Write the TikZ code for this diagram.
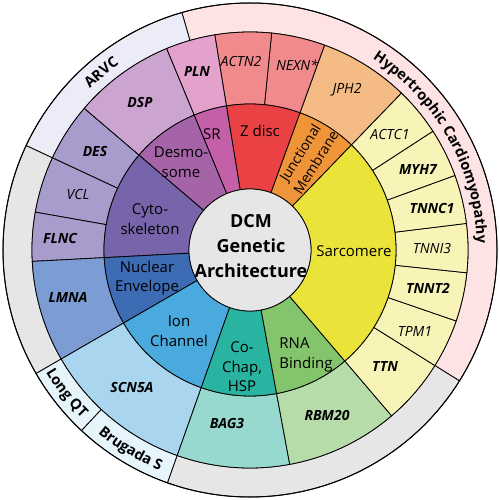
\documentclass[tikz,border=0pt]{standalone}
\usepackage{fontspec}
\setmainfont{Open Sans}
\usetikzlibrary{decorations.text}
\definecolor{cgrey}{HTML}{E6E6E6}
\definecolor{arvc}{HTML}{ECECF8}
\definecolor{hcm}{HTML}{FDE3E3}
\definecolor{lqt}{HTML}{E6F4FB}
\definecolor{sarc}{HTML}{E9E33A}
\definecolor{sarcg}{HTML}{F8F4B8}
\definecolor{junc}{HTML}{F0943A}
\definecolor{juncg}{HTML}{F4BC84}
\definecolor{zdisc}{HTML}{EA4244}
\definecolor{zdiscg}{HTML}{F08A8C}
\definecolor{srr}{HTML}{C460A8}
\definecolor{srg}{HTML}{E2A2CC}
\definecolor{desm}{HTML}{A564A8}
\definecolor{desmg}{HTML}{CCA4D0}
\definecolor{cyto}{HTML}{7864AA}
\definecolor{cytog}{HTML}{A89CCC}
\definecolor{nucl}{HTML}{3D6CB4}
\definecolor{nuclg}{HTML}{7B9DD4}
\definecolor{ion}{HTML}{4AA9DD}
\definecolor{iong}{HTML}{A9D5EF}
\definecolor{chap}{HTML}{28B4A0}
\definecolor{chapg}{HTML}{97D9CE}
\definecolor{rna}{HTML}{83C46C}
\definecolor{rnag}{HTML}{B6DCAA}
\newcommand\ringsec[5]{%
  \filldraw[fill=#5, sepline] (#3:#1pt) arc[start angle=#3, end angle=#4, radius=#1pt]
    -- (#4:#2pt) arc[start angle=#4, end angle=#3, radius=#2pt] -- cycle;}
\newcommand\dfont{\bfseries\fontsize{14.5}{16}\selectfont}
\tikzset{
  sepline/.style={draw=black, line width=0.8pt, line join=round},
  catlabel/.style={font=\fontsize{15}{19.5}\selectfont, align=center, inner sep=0pt},
  genebold/.style={font=\bfseries\itshape\fontsize{14}{16}\selectfont, inner sep=0pt},
  geneit/.style={font=\itshape\fontsize{14}{16}\selectfont, inner sep=0pt},
  ctrlabel/.style={font=\bfseries\fontsize{18}{25}\selectfont, align=center, inner sep=0pt},
}
\begin{document}
\begin{tikzpicture}
\fill[white] (-250pt,-250pt) rectangle (250pt,250pt);
\useasboundingbox (-250pt,-250pt) rectangle (250pt,250pt);
% disease ring
\ringsec{218}{247}{-32}{106}{hcm}
\ringsec{218}{247}{106}{155}{arvc}
\ringsec{218}{247}{155}{210}{cgrey}
\ringsec{218}{247}{210}{227}{lqt}
\ringsec{218}{247}{227}{250.5}{lqt}
\ringsec{218}{247}{250.5}{328}{cgrey}
% gene ring
\ringsec{146}{218}{46}{70}{juncg}
\ringsec{146}{218}{70}{84.3}{zdiscg}
\ringsec{146}{218}{84.3}{99.3}{zdiscg}
\ringsec{146}{218}{99.3}{112.5}{srg}
\ringsec{146}{218}{112.5}{139.5}{desmg}
\ringsec{146}{218}{139.5}{155}{cytog}
\ringsec{146}{218}{155}{170}{cytog}
\ringsec{146}{218}{170}{183}{cytog}
\ringsec{146}{218}{183}{210}{nuclg}
\ringsec{146}{218}{210}{250.5}{iong}
\ringsec{146}{218}{250.5}{280.5}{chapg}
\ringsec{146}{218}{280.5}{310.5}{rnag}
\ringsec{146}{218}{310.5}{328}{sarcg}
\ringsec{146}{218}{328}{341}{sarcg}
\ringsec{146}{218}{341}{354}{sarcg}
\ringsec{146}{218}{354}{367}{sarcg}
\ringsec{146}{218}{7}{20}{sarcg}
\ringsec{146}{218}{20}{33}{sarcg}
\ringsec{146}{218}{33}{46}{sarcg}
% category ring
\ringsec{61}{146}{46}{70}{junc}
\ringsec{61}{146}{70}{99.3}{zdisc}
\ringsec{61}{146}{99.3}{112.5}{srr}
\ringsec{61}{146}{112.5}{139.5}{desm}
\ringsec{61}{146}{139.5}{183}{cyto}
\ringsec{61}{146}{183}{210}{nucl}
\ringsec{61}{146}{210}{250.5}{ion}
\ringsec{61}{146}{250.5}{280.5}{chap}
\ringsec{61}{146}{280.5}{310.5}{rna}
\ringsec{61}{146}{-49.5}{46}{sarc}
% centre
\filldraw[fill=cgrey, sepline] (0,0) circle[radius=61pt];
\draw[line width=1pt] (0,0) circle[radius=247pt];
\node[ctrlabel] (ctr) at (1pt,4pt) {DCM\\Genetic\\Architecture};
% category labels
\node[catlabel] (sarcl) at (104pt,-1pt) {Sarcomere};
\node[catlabel, align=left] (rnal) at (56pt,-105pt) {RNA\\Binding};
\node[catlabel] (chapl) at (-8pt,-117pt) {Co-\\Chap,\\HSP};
\node[catlabel] (ionl) at (-71pt,-81pt) {Ion\\Channel};
\node[catlabel] (nucll) at (-103pt,-28pt) {Nuclear\\Envelope};
\node[catlabel] (cytol) at (-100pt,31pt) {Cyto-\\skeleton};
\node[catlabel] (desml) at (-69pt,88pt) {Desmo-\\some};
\node[catlabel] (srl) at (-38pt,116pt) {SR};
\node[catlabel] (zdl) at (10pt,119pt) {Z disc};
\node[catlabel, font=\fontsize{14}{18.5}\selectfont, rotate=58] (juncl) at (58:109pt) {Junctional\\Membrane};
% gene labels
\node[genebold] (pln) at (-53pt,178pt) {PLN};
\node[genebold] (dsp) at (-110pt,147pt) {DSP};
\node[genebold] (des) at (-155pt,98pt) {DES};
\node[geneit] (vcl) at (-172pt,55pt) {VCL};
\node[genebold] (flnc) at (-190pt,12pt) {FLNC};
\node[genebold] (lmna) at (-182pt,-47pt) {LMNA};
\node[genebold] (scn) at (-118pt,-137pt) {SCN5A};
\node[genebold] (bag) at (-23pt,-173pt) {BAG3};
\node[genebold] (rbm) at (77pt,-165pt) {RBM20};
\node[genebold] (ttn) at (135pt,-117pt) {TTN};
\node[geneit] (tpm) at (165pt,-82pt) {TPM1};
\node[genebold] (tnnt) at (178pt,-38pt) {TNNT2};
\node[geneit] (tnni) at (182pt,1pt) {TNNI3};
\node[genebold] (tnnc) at (182pt,42pt) {TNNC1};
\node[genebold] (myh) at (168pt,80pt) {MYH7};
\node[geneit] (actc) at (140pt,115pt) {ACTC1};
\node[geneit] (jph) at (97pt,160pt) {JPH2};
\node[geneit] (nexn) at (47pt,185pt) {NEXN*};
\node[geneit] (actn) at (-9pt,188pt) {ACTN2};
% disease labels
\path[decorate, decoration={text along path, text align=center, text={|\dfont|Hypertrophic Cardiomyopathy}}]
  (75:227pt) arc[start angle=75, end angle=-16, radius=227pt];
\path[decorate, decoration={text along path, text align=center, text={|\dfont|ARVC}}]
  (160:227pt) arc[start angle=160, end angle=100, radius=227pt];
\path[decorate, decoration={text along path, text align=center, text={|\dfont|Long QT}}]
  (-162:238pt) arc[start angle=-162, end angle=-122, radius=238pt];
\path[decorate, decoration={text along path, text align=center, text={|\dfont|Brugada S}}]
  (-141:238pt) arc[start angle=-141, end angle=-101, radius=238pt];
\end{tikzpicture}
\end{document}
